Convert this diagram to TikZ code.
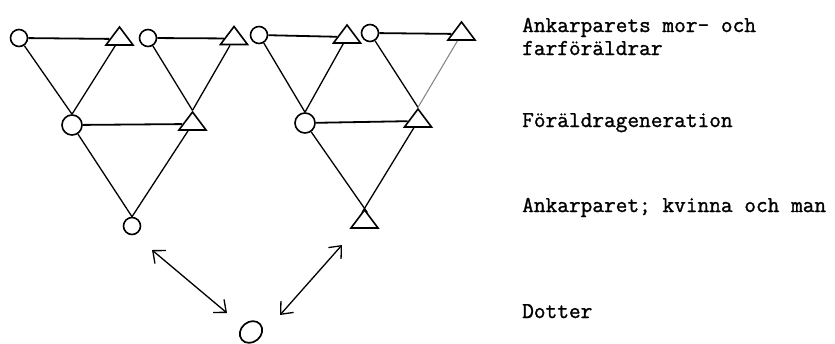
\documentclass[tikz,border=0pt]{standalone}
\usepackage{fontspec}
\newfontfamily\twfont{Latin Modern Mono}[FakeBold=1.2]
\usetikzlibrary{shapes.geometric,arrows.meta}
\begin{document}
\begin{tikzpicture}[x=1pt,y=-1pt,
  pers/.style={circle,draw,line width=1.6pt,inner sep=0pt,minimum size=17pt},
  mpers/.style={pers,minimum size=20pt},
  tri/.style={regular polygon,regular polygon sides=3,draw,line width=1.6pt,inner sep=0pt,minimum size=24pt,xscale=1.3},
  tie/.style={line width=1.3pt},
  mar/.style={line width=1.8pt},
  lbl/.style={font=\twfont\fontsize{22.7}{25}\selectfont,anchor=base west,inner sep=0pt},
  arr/.style={line width=1.3pt,{Straight Barb[length=10pt,width=17pt]}-{Straight Barb[length=10pt,width=17pt]}}
]
\fill[white] (0,0) rectangle (835,343);
\useasboundingbox (0,0) rectangle (835,343);

% grandparents
\node[pers] (c1) at (19,38) {};
\node[tri]  (t1) at (119.5,39) {};
\node[pers] (c2) at (148,38) {};
\node[tri]  (t2) at (234,38.5) {};
\node[pers] (c3) at (259,35) {};
\node[tri]  (t3) at (347,37) {};
\node[pers] (c4) at (370,33) {};
\node[tri]  (t4) at (461.5,34) {};
% parents
\node[mpers] (c5) at (72,125) {};
\node[tri]   (t5) at (192.5,124) {};
\node[mpers] (c6) at (305,123) {};
\node[tri]   (t6) at (418,121) {};
% anchor couple
\node[pers] (c7) at (132,226) {};
\node[tri]  (t7) at (364.5,222) {};
% daughter
\node[ellipse,draw,line width=1.7pt,inner sep=0pt,minimum width=24pt,minimum height=20pt,rotate=40] (d) at (251,332) {};

% marriages
\draw[mar] (c1) -- (t1);
\draw[mar] (c2) -- (t2);
\draw[mar] (c3) -- (t3);
\draw[mar] (c4) -- (t4);
\draw[mar] (c5) -- (t5);
\draw[mar] (c6) -- (t6);

% descent
\draw[tie] (c1) -- (c5.north);
\draw[tie] (t1) -- (c5.north);
\draw[tie] (c2) -- (t5.north);
\draw[tie] (t2) -- (t5.north);
\draw[tie] (c3) -- (c6.north);
\draw[tie] (t3) -- (c6.north);
\draw[tie] (c4) -- (t6.north);
\draw[line width=1pt,gray] (t4) -- (t6.north);
\draw[tie] (c5) -- (c7.north);
\draw[tie] (t5) -- (c7.north);
\draw[tie,shorten >=-5pt] (c6) -- (t7.north);
\draw[tie,shorten >=-5pt] (t6) -- (t7.north);

% arrows to daughter
\coordinate (a1) at (152,250);
\coordinate (a2) at (227,313);
\coordinate (b1) at (342,245);
\coordinate (b2) at (280,315);
\draw[arr] (a1) -- (a2);
\draw[arr] (b1) -- (b2);

% labels
\node[lbl] (l1a) at (522,32) {Ankarparets mor- och};
\node[lbl] (l1b) at (522,55) {farföräldrar};
\node[lbl] (l2) at (522,127) {Föräldrageneration};
\node[lbl] (l3) at (522,212) {Ankarparet; kvinna och man};
\node[lbl] (l4) at (522,318) {Dotter};
\end{tikzpicture}
\end{document}
